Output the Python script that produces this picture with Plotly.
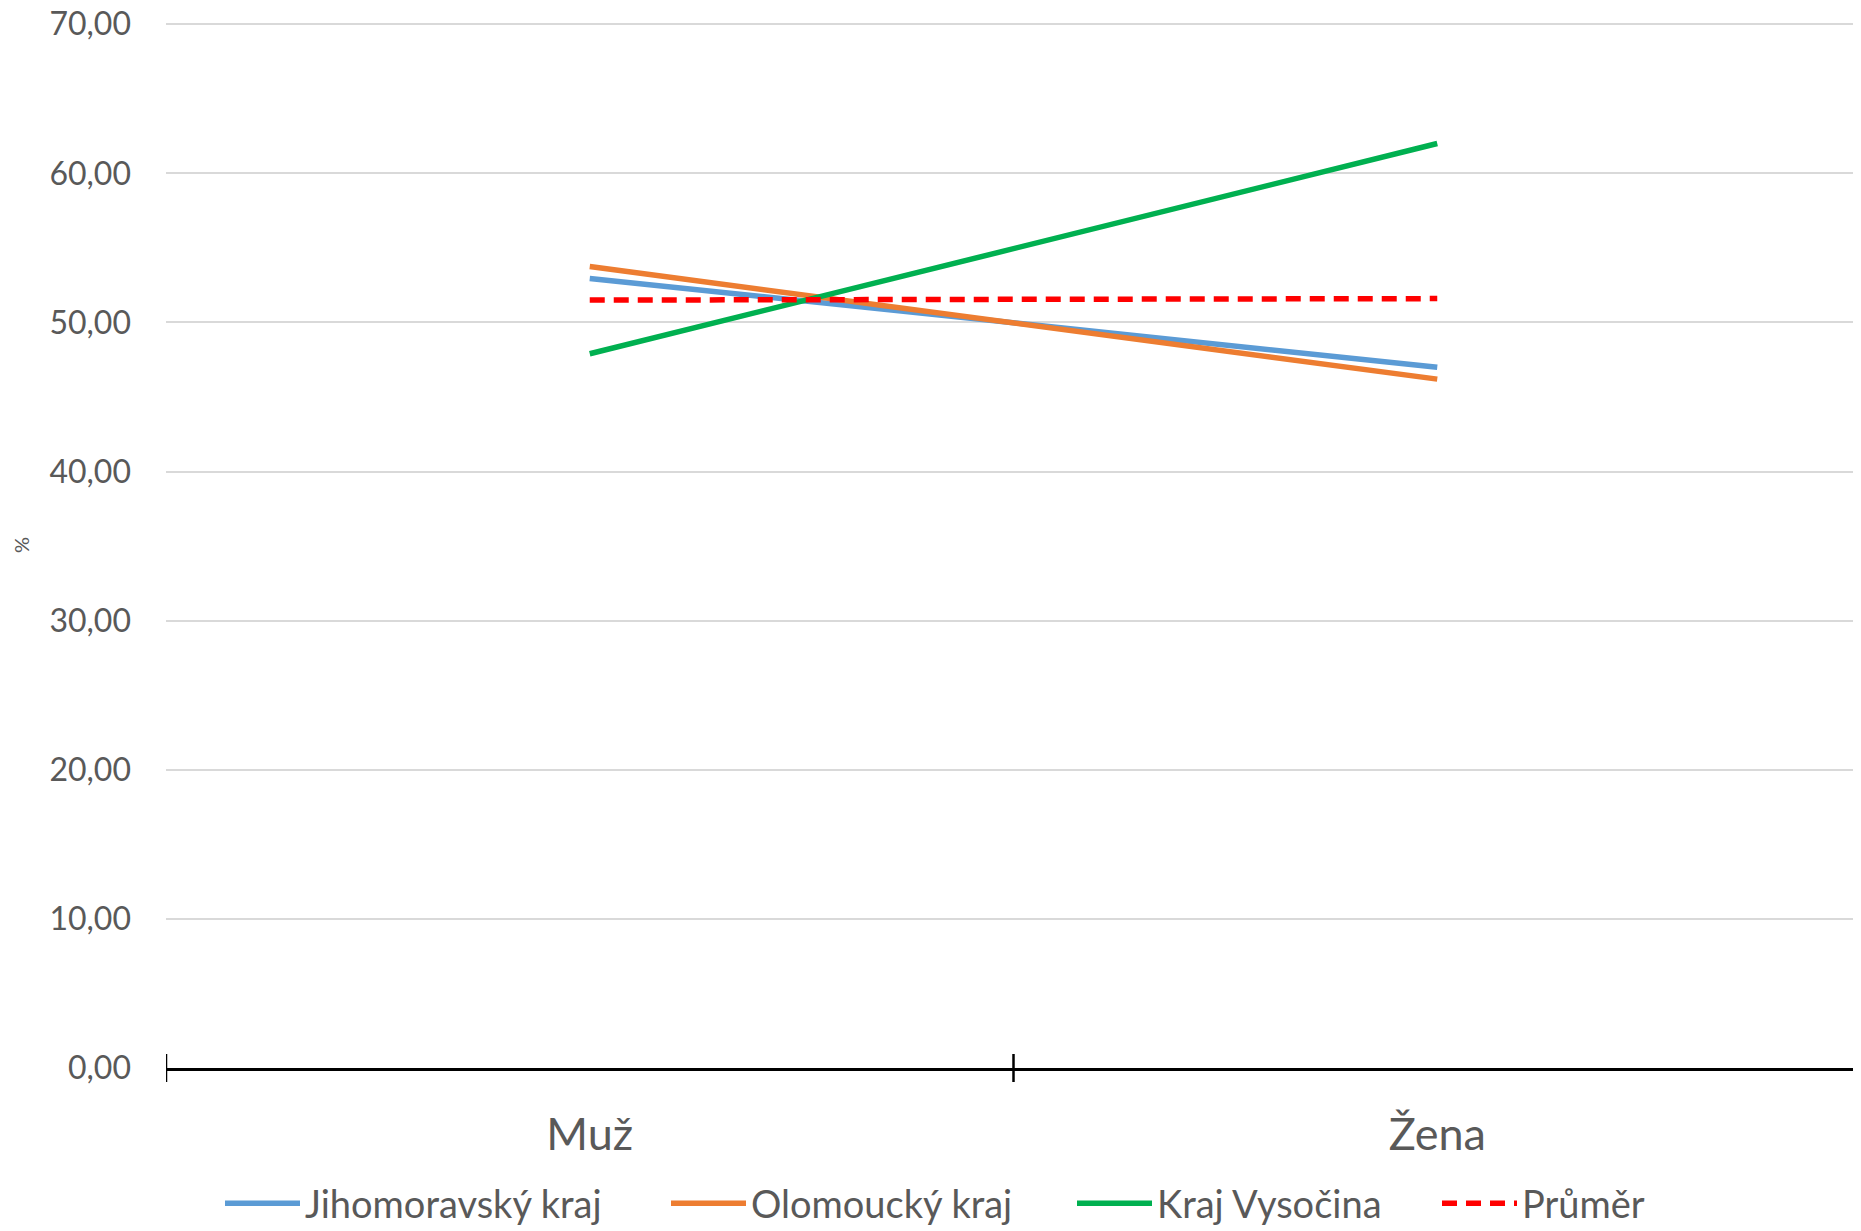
import plotly.graph_objects as go

categories = ["Muž", "Žena"]
jihomoravsky = [52.95, 47.0]
olomoucky = [53.75, 46.2]
vysocina = [47.9, 62.0]
prumer = [51.5, 51.6]
y_ticks = [0, 10, 20, 30, 40, 50, 60, 70]
y_ticktext = ["0,00", "10,00", "20,00", "30,00", "40,00", "50,00", "60,00", "70,00"]

series = [
    ("Jihomoravský kraj", jihomoravsky, "#5B9BD5", "solid"),
    ("Olomoucký kraj", olomoucky, "#ED7D31", "solid"),
    ("Kraj Vysočina", vysocina, "#00B050", "solid"),
    ("Průměr", prumer, "#FF0000", "15px,9px"),
]

FONT = "Lato, Open Sans, sans-serif"
W, H = 1853, 1223  # page body has an 8px margin
legend_left_px = [217, 663, 1069, 1434]
LEGEND_TOP_PX = 1164

fig = go.Figure()
legend_layouts = {}
for i, (name, vals, color, dash) in enumerate(series):
    lname = "legend" if i == 0 else f"legend{i + 1}"
    fig.add_trace(go.Scatter(
        x=categories, y=vals, name=name, mode="lines",
        line=dict(color=color, width=5.5, dash=dash),
        legend=lname,
    ))
    legend_layouts[lname] = dict(
        orientation="h", xref="container", yref="container",
        x=(legend_left_px[i] - 5) / W, xanchor="left",
        y=1 - LEGEND_TOP_PX / H, yanchor="top",
        font=dict(size=38, color="#595959", family=FONT),
        itemwidth=75, bgcolor="rgba(0,0,0,0)",
    )

# tick marks crossing the x axis at category boundaries
for i in range(len(categories) + 1):
    fig.add_shape(type="line", xref="x", yref="paper", x0=i - 0.5, x1=i - 0.5,
                  ysizemode="pixel", yanchor=0, y0=-14, y1=14,
                  line=dict(color="black", width=2.5))

fig.update_layout(
    width=W, height=H,
    margin=dict(l=158, r=0, t=14, b=163),
    paper_bgcolor="white", plot_bgcolor="white",
    font=dict(family=FONT, color="#595959"),
    showlegend=True,
    xaxis=dict(type="category", categoryorder="array", categoryarray=categories,
               range=[-0.5, 1.5], showgrid=False, zeroline=False,
               showline=True, linecolor="black", linewidth=3,
               ticks="", tickfont=dict(size=45, color="#595959", family=FONT),
               ticklabelstandoff=25, automargin=False),
    yaxis=dict(range=[0, 70.15], tickvals=y_ticks, ticktext=y_ticktext,
               showgrid=True, gridcolor="#D9D9D9", gridwidth=2,
               zeroline=False, showline=False, ticks="",
               ticklabeloverflow="allow", automargin=False,
               tickfont=dict(size=32, color="#595959", family=FONT),
               ticklabelstandoff=34),
    annotations=[dict(text="%", xref="paper", yref="paper", x=0, y=0.5,
                      xanchor="center", yanchor="middle", xshift=-145,
                      textangle=-90, showarrow=False,
                      font=dict(size=20, color="#595959", family=FONT))],
    **legend_layouts,
)

fig.write_html("out.html")
